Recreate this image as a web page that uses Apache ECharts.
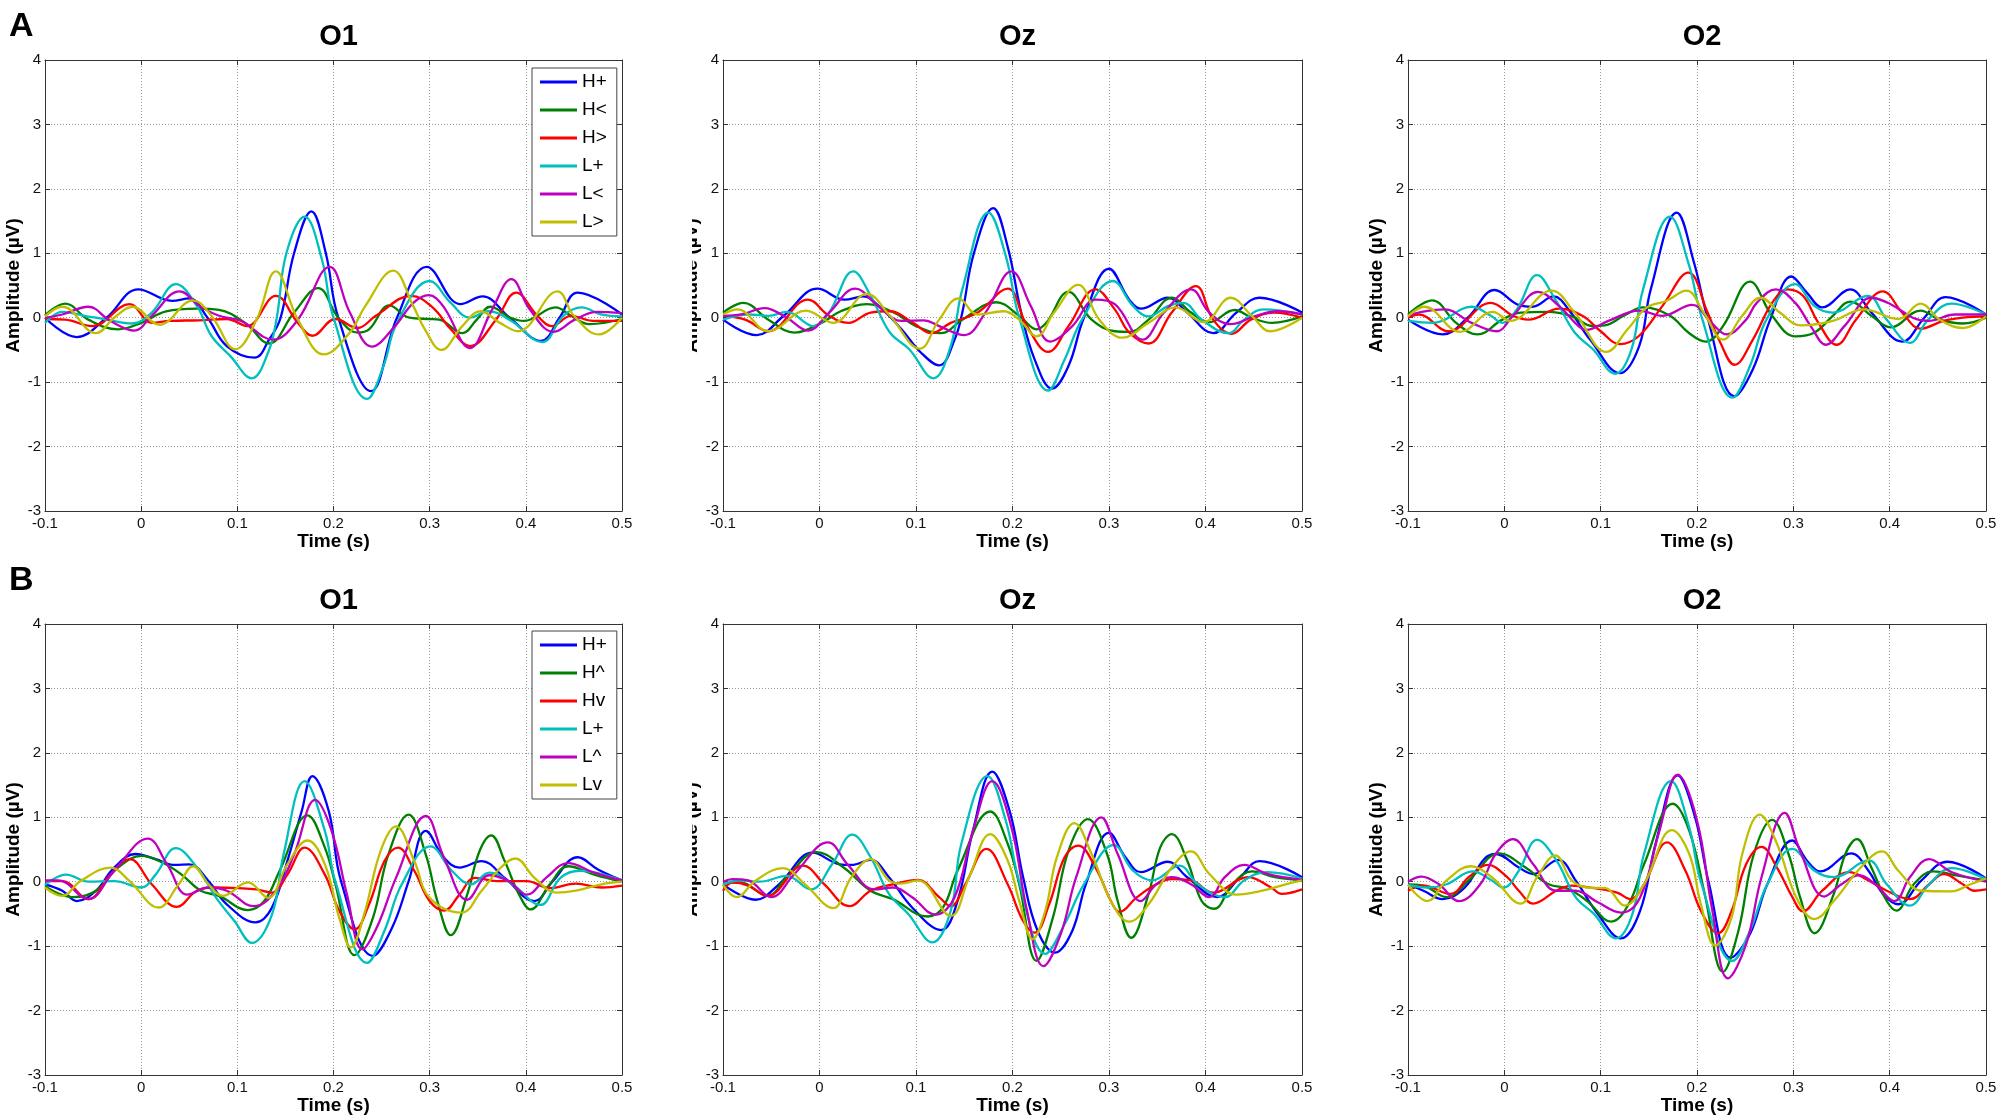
<!DOCTYPE html>
<html>
<head>
    <meta charset="utf-8">
    <title>ERP O1 Oz O2</title>
    <script src="https://cdn.jsdelivr.net/npm/echarts@6/dist/echarts.min.js"></script>
    <style>
        body { margin: 0; background: #fff; }
    </style>
</head>
<body>
    <div id="main" style="width: 2000px;height:1120px;"></div>
    <script type="text/javascript">
        // channel titles and legend names
        const channels = ['O1', 'Oz', 'O2'];
        const namesA = ['H+', 'H<', 'H>', 'L+', 'L<', 'L>'];
        const namesB = ['H+', 'H^', 'Hv', 'L+', 'L^', 'Lv'];
        const colors = ['#0000ff', '#008000', '#ff0000', '#00bfbf', '#bf00bf', '#bfbf00'];

        // [time (s), amplitude (uV)]
        // ---- A / O1
        const aO1_Hp = [[-0.1,0],[-0.067,-0.3],[-0.036,0],[-0.003,0.44],[0.032,0.26],[0.05,0.3],[0.069,0],[0.089,-0.44],[0.118,-0.62],[0.133,-0.34],[0.145,0],[0.159,1.0],[0.177,1.65],[0.192,1.0],[0.205,0],[0.239,-1.14],[0.266,0],[0.297,0.79],[0.332,0.21],[0.355,0.33],[0.383,0],[0.416,-0.36],[0.435,0],[0.454,0.39],[0.5,0.05]];
        const aO1_Hlt = [[-0.1,0.04],[-0.079,0.22],[-0.055,-0.03],[-0.024,-0.18],[0,-0.08],[0.026,0.1],[0.058,0.14],[0.081,0.12],[0.108,-0.08],[0.133,-0.4],[0.159,0.08],[0.184,0.46],[0.205,0],[0.225,-0.23],[0.237,-0.18],[0.258,0.19],[0.279,0],[0.299,-0.02],[0.31,-0.03],[0.334,-0.24],[0.349,-0.03],[0.363,0.17],[0.384,0],[0.398,-0.05],[0.431,0.16],[0.447,0.03],[0.466,-0.1],[0.5,-0.02]];
        const aO1_Hgt = [[-0.1,-0.02],[-0.079,-0.03],[-0.051,-0.13],[-0.012,0.21],[0.011,-0.08],[0.03,-0.05],[0.06,-0.04],[0.089,-0.02],[0.11,-0.13],[0.14,0.34],[0.163,-0.08],[0.178,-0.28],[0.202,-0.02],[0.225,-0.16],[0.244,0.03],[0.281,0.34],[0.303,0.16],[0.322,-0.18],[0.342,-0.44],[0.369,-0.03],[0.39,0.39],[0.412,0.03],[0.427,-0.13],[0.447,0.03],[0.47,-0.05],[0.5,-0.05]];
        const aO1_Lp = [[-0.1,-0.08],[-0.082,0.09],[-0.059,0.03],[-0.036,-0.03],[-0.009,-0.09],[0.011,0.08],[0.036,0.52],[0.058,0.18],[0.073,-0.28],[0.093,-0.6],[0.115,-0.94],[0.132,-0.54],[0.141,0],[0.151,1.0],[0.17,1.57],[0.188,0.9],[0.2,0],[0.235,-1.26],[0.252,-0.75],[0.266,-0.08],[0.3,0.57],[0.322,0.23],[0.342,0],[0.361,0.1],[0.385,-0.05],[0.417,-0.38],[0.439,0.03],[0.458,0.16],[0.478,0.05],[0.5,0.02]];
        const aO1_Llt = [[-0.1,0],[-0.082,0.05],[-0.055,0.17],[-0.032,-0.05],[-0.007,-0.2],[0.011,0.03],[0.04,0.41],[0.061,0.18],[0.081,0.03],[0.104,-0.05],[0.137,-0.34],[0.163,-0.03],[0.196,0.79],[0.217,0.08],[0.24,-0.45],[0.264,-0.13],[0.283,0.23],[0.299,0.35],[0.314,0.18],[0.342,-0.47],[0.365,0.13],[0.385,0.6],[0.404,0.13],[0.429,-0.22],[0.451,-0.03],[0.474,0.09],[0.5,0.07]];
        const aO1_Lgt = [[-0.1,0.02],[-0.082,0.17],[-0.047,-0.24],[-0.028,0],[-0.009,0.17],[0.019,-0.11],[0.054,0.27],[0.073,0.03],[0.098,-0.49],[0.12,-0.03],[0.14,0.72],[0.163,-0.03],[0.19,-0.57],[0.217,-0.23],[0.233,0.18],[0.262,0.73],[0.283,0.18],[0.295,-0.18],[0.312,-0.5],[0.334,-0.13],[0.353,0.1],[0.373,-0.08],[0.392,-0.21],[0.433,0.41],[0.45,0.03],[0.476,-0.26],[0.5,0]];
        // ---- A / Oz
        const aOz_Hp = [[-0.1,-0.03],[-0.065,-0.27],[-0.037,0.03],[-0.002,0.45],[0.026,0.28],[0.045,0.33],[0.065,0.13],[0.085,-0.18],[0.105,-0.54],[0.124,-0.74],[0.14,-0.34],[0.148,0.08],[0.16,1.0],[0.18,1.7],[0.195,1.1],[0.209,0.08],[0.223,-0.65],[0.241,-1.1],[0.258,-0.75],[0.274,0],[0.3,0.76],[0.321,0.28],[0.333,0.14],[0.361,0.31],[0.381,0.08],[0.408,-0.24],[0.432,0.08],[0.456,0.31],[0.5,0.08]];
        const aOz_Hlt = [[-0.1,0.08],[-0.079,0.23],[-0.053,-0.03],[-0.026,-0.23],[0.002,-0.08],[0.022,0.1],[0.049,0.21],[0.077,0.08],[0.1,-0.13],[0.126,-0.24],[0.148,-0.03],[0.183,0.24],[0.207,0.03],[0.225,-0.18],[0.235,-0.08],[0.258,0.4],[0.282,-0.03],[0.306,-0.21],[0.321,-0.22],[0.341,-0.03],[0.365,0.31],[0.385,0.08],[0.404,-0.07],[0.43,0.12],[0.448,0],[0.469,-0.08],[0.5,0.02]];
        const aOz_Hgt = [[-0.1,0.03],[-0.077,-0.03],[-0.053,-0.21],[-0.012,0.28],[0.01,0.03],[0.03,-0.08],[0.053,0.08],[0.073,0.1],[0.097,-0.08],[0.116,-0.24],[0.136,-0.08],[0.164,0.08],[0.195,0.45],[0.215,-0.13],[0.237,-0.53],[0.258,-0.13],[0.286,0.44],[0.306,0.13],[0.321,-0.23],[0.341,-0.4],[0.365,0.08],[0.39,0.49],[0.408,-0.03],[0.427,-0.25],[0.447,-0.03],[0.471,0.08],[0.5,0]];
        const aOz_Lp = [[-0.1,-0.03],[-0.073,0.05],[-0.053,0.03],[-0.034,0.09],[-0.006,-0.13],[0.01,0.08],[0.035,0.72],[0.053,0.34],[0.073,-0.23],[0.093,-0.49],[0.118,-0.94],[0.136,-0.44],[0.148,0.44],[0.175,1.63],[0.193,0.96],[0.207,0],[0.237,-1.13],[0.254,-0.65],[0.272,-0.03],[0.304,0.57],[0.325,0.18],[0.341,0.02],[0.361,0.18],[0.377,0.23],[0.396,-0.03],[0.424,-0.24],[0.44,-0.03],[0.46,0.13],[0.5,0.05]];
        const aOz_Llt = [[-0.1,0.03],[-0.081,0.05],[-0.057,0.15],[-0.034,0],[-0.012,-0.2],[0.01,0.08],[0.037,0.45],[0.061,0.18],[0.085,-0.05],[0.108,-0.04],[0.124,-0.13],[0.15,-0.27],[0.172,0.08],[0.199,0.72],[0.219,0.18],[0.239,-0.37],[0.262,-0.13],[0.286,0.28],[0.306,0.21],[0.335,-0.34],[0.357,0.08],[0.385,0.44],[0.404,0.08],[0.426,-0.1],[0.452,0.03],[0.475,0.1],[0.5,0.05]];
        const aOz_Lgt = [[-0.1,0.05],[-0.085,0.13],[-0.053,-0.21],[-0.014,0.11],[0.014,-0.08],[0.049,0.37],[0.073,0.03],[0.104,-0.48],[0.124,-0.03],[0.144,0.3],[0.164,0.05],[0.191,0.1],[0.207,-0.03],[0.225,-0.29],[0.243,0.08],[0.268,0.51],[0.29,-0.03],[0.314,-0.31],[0.341,-0.08],[0.369,0.16],[0.398,-0.07],[0.426,0.31],[0.448,0.03],[0.467,-0.21],[0.5,0]];
        // ---- A / O2
        const aO2_Hp = [[-0.1,-0.03],[-0.064,-0.26],[-0.038,0],[-0.01,0.43],[0.013,0.21],[0.029,0.17],[0.051,0.33],[0.069,0.08],[0.089,-0.34],[0.12,-0.86],[0.14,-0.44],[0.152,0.44],[0.179,1.63],[0.197,0.85],[0.211,0],[0.239,-1.22],[0.258,-0.8],[0.276,-0.03],[0.298,0.64],[0.314,0.39],[0.33,0.16],[0.359,0.44],[0.381,0.08],[0.413,-0.37],[0.436,0],[0.458,0.32],[0.5,0.05]];
        const aO2_Hlt = [[-0.1,0.05],[-0.075,0.27],[-0.05,-0.08],[-0.028,-0.26],[-0.002,-0.03],[0.017,0.08],[0.045,0.09],[0.069,0.03],[0.092,-0.13],[0.104,-0.12],[0.124,0.03],[0.144,0.16],[0.172,0.03],[0.191,-0.23],[0.209,-0.37],[0.227,-0.13],[0.255,0.56],[0.278,0.03],[0.302,-0.29],[0.322,-0.23],[0.341,0.03],[0.359,0.25],[0.381,0.03],[0.401,-0.15],[0.432,0.11],[0.452,-0.03],[0.476,-0.09],[0.5,0]];
        const aO2_Hgt = [[-0.1,0],[-0.089,0.05],[-0.058,-0.21],[-0.014,0.23],[0.009,0.03],[0.025,-0.03],[0.057,0.14],[0.081,0.03],[0.1,-0.21],[0.12,-0.41],[0.14,-0.28],[0.164,0.18],[0.191,0.7],[0.211,0.08],[0.224,-0.38],[0.239,-0.73],[0.258,-0.34],[0.278,0.23],[0.294,0.44],[0.31,0.34],[0.326,-0.08],[0.345,-0.42],[0.365,-0.03],[0.393,0.41],[0.413,0.08],[0.432,-0.17],[0.456,-0.05],[0.476,0],[0.5,0.02]];
        const aO2_Lp = [[-0.1,-0.05],[-0.074,-0.08],[-0.034,0.17],[-0.014,0.03],[-0.002,-0.08],[0.013,0.13],[0.034,0.66],[0.053,0.28],[0.073,-0.23],[0.092,-0.49],[0.115,-0.87],[0.132,-0.49],[0.144,0.44],[0.172,1.57],[0.191,0.85],[0.205,0],[0.237,-1.24],[0.255,-0.75],[0.272,-0.03],[0.302,0.52],[0.322,0.18],[0.341,0.08],[0.377,0.34],[0.397,-0.03],[0.421,-0.39],[0.44,-0.03],[0.464,0.22],[0.5,0.05]];
        const aO2_Llt = [[-0.1,0.03],[-0.089,0.08],[-0.062,0.13],[-0.034,-0.08],[-0.008,-0.21],[0.009,0.03],[0.035,0.4],[0.057,0.18],[0.077,-0.13],[0.085,-0.19],[0.108,-0.05],[0.14,0.11],[0.164,0.03],[0.195,0.2],[0.215,-0.08],[0.231,-0.26],[0.251,-0.03],[0.262,0.23],[0.282,0.44],[0.302,0.23],[0.318,-0.13],[0.334,-0.42],[0.353,-0.13],[0.381,0.31],[0.401,0.21],[0.424,0],[0.44,-0.05],[0.468,0.05],[0.5,0.05]];
        const aO2_Lgt = [[-0.1,0.02],[-0.083,0.17],[-0.046,-0.22],[-0.012,0.09],[0.006,-0.05],[0.049,0.42],[0.073,0.08],[0.106,-0.53],[0.128,-0.18],[0.148,0.16],[0.168,0.26],[0.189,0.42],[0.207,0.08],[0.227,-0.34],[0.247,0.03],[0.266,0.31],[0.286,0.08],[0.308,-0.12],[0.341,-0.05],[0.373,0.13],[0.409,-0.02],[0.432,0.22],[0.452,-0.03],[0.476,-0.16],[0.5,0.02]];
        // ---- B / O1
        const bO1_Hp = [[-0.1,-0.04],[-0.082,-0.14],[-0.067,-0.3],[-0.047,-0.14],[-0.028,0.22],[-0.006,0.43],[0.015,0.35],[0.035,0.26],[0.05,0.27],[0.07,0.01],[0.089,-0.35],[0.119,-0.63],[0.136,-0.4],[0.152,0.32],[0.167,1.1],[0.178,1.64],[0.195,1.1],[0.208,0],[0.241,-1.15],[0.261,-0.71],[0.278,0],[0.296,0.79],[0.315,0.37],[0.331,0.22],[0.354,0.32],[0.378,0.06],[0.409,-0.3],[0.428,0.01],[0.454,0.38],[0.475,0.19],[0.5,0.02]];
        const bO1_Hup = [[-0.1,-0.07],[-0.071,-0.24],[-0.047,-0.14],[-0.024,0.22],[0,0.4],[0.023,0.29],[0.042,0.11],[0.062,-0.14],[0.081,-0.22],[0.111,-0.44],[0.128,-0.3],[0.144,0.17],[0.173,1.03],[0.191,0.53],[0.202,-0.04],[0.222,-1.14],[0.241,-0.56],[0.257,0.42],[0.278,1.04],[0.296,0.42],[0.308,-0.3],[0.322,-0.83],[0.339,-0.2],[0.352,0.48],[0.364,0.72],[0.378,0.32],[0.393,-0.2],[0.405,-0.43],[0.425,-0.04],[0.444,0.24],[0.471,0.11],[0.5,0]];
        const bO1_Hdn = [[-0.1,0.01],[-0.082,0.01],[-0.055,-0.27],[-0.032,0.11],[-0.012,0.35],[0.011,-0.04],[0.037,-0.39],[0.058,-0.14],[0.078,-0.09],[0.101,-0.1],[0.12,-0.12],[0.136,-0.17],[0.152,0.11],[0.17,0.53],[0.191,0.11],[0.206,-0.45],[0.222,-0.74],[0.237,-0.35],[0.253,0.32],[0.267,0.53],[0.284,0.17],[0.3,-0.3],[0.315,-0.45],[0.331,-0.2],[0.347,0.06],[0.37,0.01],[0.401,0.01],[0.425,-0.1],[0.452,-0.03],[0.479,-0.09],[0.5,-0.06]];
        const bO1_Lp = [[-0.1,-0.05],[-0.078,0.11],[-0.055,0],[-0.028,0.01],[0,-0.09],[0.015,0.11],[0.036,0.52],[0.058,0.22],[0.078,-0.25],[0.097,-0.61],[0.115,-0.95],[0.136,-0.51],[0.148,0.42],[0.17,1.56],[0.191,0.79],[0.202,0],[0.235,-1.26],[0.253,-0.76],[0.271,-0.04],[0.301,0.55],[0.323,0.17],[0.343,-0.04],[0.362,0.14],[0.386,-0.04],[0.415,-0.36],[0.436,0.06],[0.456,0.17],[0.5,0.02]];
        const bO1_Lup = [[-0.1,0.02],[-0.086,0.02],[-0.055,-0.27],[-0.028,0.17],[0.007,0.67],[0.027,0.27],[0.048,-0.2],[0.07,-0.09],[0.089,-0.14],[0.117,-0.38],[0.14,-0.14],[0.159,0.42],[0.181,1.27],[0.198,0.79],[0.214,-0.2],[0.23,-1.05],[0.245,-0.71],[0.265,0.06],[0.296,1.02],[0.315,0.37],[0.339,-0.28],[0.362,0.1],[0.382,0.01],[0.401,-0.2],[0.421,0.06],[0.444,0.29],[0.471,0.14],[0.5,0.02]];
        const bO1_Ldn = [[-0.1,-0.09],[-0.082,-0.22],[-0.063,0.01],[-0.032,0.22],[-0.012,0.01],[0.018,-0.4],[0.039,-0.04],[0.054,0.24],[0.07,-0.04],[0.085,-0.22],[0.111,-0.01],[0.132,-0.25],[0.152,0.27],[0.173,0.64],[0.191,0.27],[0.206,-0.56],[0.218,-1.02],[0.232,-0.5],[0.249,0.48],[0.265,0.86],[0.284,0.32],[0.3,-0.25],[0.333,-0.48],[0.354,-0.14],[0.374,0.22],[0.389,0.36],[0.409,0.06],[0.432,-0.17],[0.452,-0.14],[0.479,-0.04],[0.5,0]];
        // ---- B / Oz
        const bOz_Hp = [[-0.1,-0.04],[-0.066,-0.28],[-0.042,-0.04],[-0.007,0.45],[0.021,0.27],[0.033,0.26],[0.053,0.34],[0.072,0.07],[0.096,-0.4],[0.126,-0.75],[0.143,-0.3],[0.159,0.79],[0.179,1.71],[0.197,1.1],[0.211,0.07],[0.226,-0.76],[0.244,-1.1],[0.262,-0.76],[0.276,-0.04],[0.3,0.76],[0.317,0.38],[0.333,0.15],[0.361,0.31],[0.381,0.07],[0.412,-0.24],[0.436,0.07],[0.456,0.32],[0.5,0.07]];
        const bOz_Hup = [[-0.1,-0.03],[-0.082,-0.01],[-0.054,-0.22],[-0.034,0.07],[-0.003,0.46],[0.025,0.22],[0.053,-0.14],[0.076,-0.27],[0.112,-0.54],[0.128,-0.4],[0.143,0.17],[0.177,1.09],[0.195,0.59],[0.207,-0.04],[0.225,-1.23],[0.242,-0.55],[0.258,0.48],[0.278,0.97],[0.298,0.43],[0.309,-0.3],[0.323,-0.87],[0.341,-0.19],[0.353,0.53],[0.365,0.74],[0.381,0.33],[0.396,-0.3],[0.409,-0.42],[0.428,-0.04],[0.448,0.16],[0.472,0.07],[0.5,0.02]];
        const bOz_Hdn = [[-0.1,-0.14],[-0.09,-0.01],[-0.074,-0.06],[-0.054,-0.22],[-0.017,0.25],[0.005,-0.04],[0.031,-0.38],[0.053,-0.14],[0.076,-0.04],[0.102,0.03],[0.124,-0.24],[0.136,-0.38],[0.151,-0.04],[0.173,0.51],[0.195,-0.04],[0.211,-0.61],[0.223,-0.79],[0.238,-0.35],[0.254,0.38],[0.268,0.56],[0.286,0.22],[0.302,-0.3],[0.311,-0.47],[0.329,-0.24],[0.349,-0.04],[0.365,0.04],[0.385,0.02],[0.408,-0.17],[0.444,0.07],[0.468,-0.09],[0.479,-0.19],[0.5,-0.12]];
        const bOz_Lp = [[-0.1,-0.04],[-0.082,0.02],[-0.062,0],[-0.034,0.09],[-0.009,-0.12],[0.013,0.27],[0.034,0.73],[0.053,0.38],[0.072,-0.19],[0.092,-0.5],[0.117,-0.94],[0.136,-0.45],[0.147,0.59],[0.174,1.64],[0.193,0.95],[0.207,0],[0.234,-1.12],[0.254,-0.66],[0.274,-0.04],[0.305,0.57],[0.325,0.17],[0.345,0.02],[0.373,0.25],[0.392,-0.04],[0.42,-0.24],[0.44,0.02],[0.464,0.15],[0.5,0.05]];
        const bOz_Lup = [[-0.1,0],[-0.09,0.04],[-0.074,0.02],[-0.05,-0.24],[-0.026,0.12],[0.009,0.61],[0.029,0.27],[0.057,-0.12],[0.076,-0.09],[0.096,-0.24],[0.12,-0.51],[0.14,-0.24],[0.159,0.79],[0.179,1.56],[0.199,0.84],[0.215,-0.45],[0.232,-1.31],[0.25,-0.81],[0.266,0.07],[0.292,1.0],[0.309,0.43],[0.333,-0.3],[0.349,-0.04],[0.365,0.07],[0.385,-0.04],[0.404,-0.24],[0.42,0.07],[0.44,0.26],[0.464,0.12],[0.5,0.03]];
        const bOz_Ldn = [[-0.1,-0.05],[-0.086,-0.24],[-0.066,0.02],[-0.038,0.21],[-0.015,-0.04],[0.014,-0.41],[0.033,0.07],[0.053,0.35],[0.072,0.02],[0.084,-0.03],[0.102,0.02],[0.136,-0.53],[0.155,0.07],[0.177,0.74],[0.195,0.33],[0.207,-0.3],[0.221,-0.89],[0.234,-0.45],[0.246,0.38],[0.264,0.91],[0.282,0.43],[0.302,-0.3],[0.321,-0.62],[0.341,-0.35],[0.365,0.22],[0.385,0.47],[0.404,0.12],[0.432,-0.2],[0.459,-0.14],[0.483,-0.04],[0.5,0.02]];
        // ---- B / O2
        const bO2_Hp = [[-0.1,-0.04],[-0.084,-0.14],[-0.064,-0.27],[-0.041,-0.09],[-0.021,0.35],[-0.009,0.43],[0.015,0.22],[0.03,0.12],[0.056,0.34],[0.074,0.02],[0.097,-0.5],[0.121,-0.88],[0.141,-0.45],[0.157,0.59],[0.18,1.65],[0.198,1.0],[0.212,0],[0.235,-1.18],[0.255,-0.81],[0.273,-0.04],[0.299,0.64],[0.314,0.33],[0.328,0.16],[0.36,0.44],[0.378,0.17],[0.393,-0.19],[0.409,-0.35],[0.433,0.02],[0.46,0.31],[0.5,0.05]];
        const bO2_Hup = [[-0.1,-0.04],[-0.084,-0.06],[-0.06,-0.24],[-0.037,0.02],[-0.005,0.44],[0.022,0.22],[0.046,-0.04],[0.066,-0.11],[0.086,-0.3],[0.111,-0.62],[0.129,-0.35],[0.145,0.27],[0.175,1.21],[0.192,0.79],[0.208,-0.19],[0.227,-1.4],[0.243,-0.76],[0.259,0.43],[0.278,0.96],[0.295,0.43],[0.307,-0.24],[0.322,-0.8],[0.342,-0.19],[0.354,0.43],[0.366,0.66],[0.381,0.22],[0.397,-0.3],[0.407,-0.45],[0.425,-0.04],[0.445,0.16],[0.472,0.09],[0.5,0.02]];
        const bO2_Hdn = [[-0.1,-0.14],[-0.084,-0.06],[-0.056,-0.19],[-0.037,0.07],[-0.017,0.26],[0.003,0.07],[0.015,-0.14],[0.03,-0.34],[0.054,-0.14],[0.07,-0.06],[0.093,-0.1],[0.117,-0.17],[0.131,-0.27],[0.145,-0.04],[0.169,0.61],[0.188,0.17],[0.204,-0.45],[0.222,-0.8],[0.236,-0.45],[0.251,0.27],[0.267,0.54],[0.283,0.22],[0.299,-0.24],[0.31,-0.46],[0.33,-0.14],[0.358,0.15],[0.378,0.02],[0.397,-0.14],[0.421,-0.27],[0.441,-0.04],[0.456,0.12],[0.476,-0.04],[0.488,-0.14],[0.5,-0.12]];
        const bO2_Lp = [[-0.1,-0.05],[-0.08,-0.09],[-0.06,-0.04],[-0.033,0.16],[-0.013,0.02],[-0.001,-0.09],[0.015,0.17],[0.034,0.65],[0.054,0.33],[0.074,-0.24],[0.093,-0.5],[0.116,-0.88],[0.133,-0.5],[0.145,0.43],[0.173,1.56],[0.192,0.84],[0.204,0],[0.237,-1.23],[0.255,-0.76],[0.273,-0.04],[0.299,0.51],[0.322,0.17],[0.342,0.07],[0.378,0.33],[0.397,-0.04],[0.421,-0.37],[0.441,-0.04],[0.464,0.21],[0.5,0.04]];
        const bO2_Lup = [[-0.1,0],[-0.086,0.08],[-0.068,-0.04],[-0.047,-0.3],[-0.025,-0.04],[-0.009,0.43],[0.009,0.66],[0.03,0.27],[0.054,-0.14],[0.074,-0.14],[0.097,-0.32],[0.121,-0.48],[0.141,-0.24],[0.161,0.79],[0.18,1.66],[0.2,0.95],[0.216,-0.45],[0.232,-1.5],[0.251,-0.97],[0.267,0.07],[0.291,1.07],[0.307,0.48],[0.332,-0.23],[0.35,-0.04],[0.368,0.1],[0.385,-0.04],[0.405,-0.3],[0.421,0.07],[0.441,0.35],[0.464,0.15],[0.5,0]];
        const bO2_Ldn = [[-0.1,-0.05],[-0.08,-0.3],[-0.06,0.02],[-0.035,0.24],[-0.013,0.07],[0.017,-0.34],[0.034,0.07],[0.053,0.41],[0.07,0.02],[0.086,-0.09],[0.105,-0.1],[0.125,-0.37],[0.145,-0.04],[0.174,0.8],[0.192,0.43],[0.204,-0.35],[0.219,-0.99],[0.236,-0.55],[0.247,0.43],[0.265,1.04],[0.283,0.59],[0.303,-0.24],[0.322,-0.58],[0.342,-0.3],[0.37,0.22],[0.392,0.47],[0.409,0.17],[0.433,-0.14],[0.464,-0.15],[0.484,-0.04],[0.5,0.05]];

        // panels in reading order: A-O1, A-Oz, A-O2, B-O1, B-Oz, B-O2
        const panelData = [
            [aO1_Hp, aO1_Hlt, aO1_Hgt, aO1_Lp, aO1_Llt, aO1_Lgt],
            [aOz_Hp, aOz_Hlt, aOz_Hgt, aOz_Lp, aOz_Llt, aOz_Lgt],
            [aO2_Hp, aO2_Hlt, aO2_Hgt, aO2_Lp, aO2_Llt, aO2_Lgt],
            [bO1_Hp, bO1_Hup, bO1_Hdn, bO1_Lp, bO1_Lup, bO1_Ldn],
            [bOz_Hp, bOz_Hup, bOz_Hdn, bOz_Lp, bOz_Lup, bOz_Ldn],
            [bO2_Hp, bO2_Hup, bO2_Hdn, bO2_Lp, bO2_Lup, bO2_Ldn]
        ];

        const font = 'Liberation Sans, Arial, Helvetica, sans-serif';
        const axisColor = '#333';
        const cols = [{ left: 45, width: 577 }, { left: 723, width: 579 }, { left: 1408, width: 578 }];
        const rows = [{ top: 60, height: 451 }, { top: 624, height: 451 }];

        const grids = [], xAxes = [], yAxes = [], titles = [], series = [];
        for (let p = 0; p < 6; p++) {
            const r = rows[Math.floor(p / 3)];
            const c = cols[p % 3];
            grids.push({
                left: c.left, top: r.top, width: c.width, height: r.height,
                containLabel: false, outerBoundsMode: 'none'
            });
            titles.push({
                text: channels[p % 3],
                left: c.left + c.width / 2, top: r.top - 43, textAlign: 'center',
                textStyle: { fontFamily: font, fontSize: 29, fontWeight: 'bold', color: '#000' }
            });
            // bottom and top x axes
            xAxes.push({
                type: 'value', gridIndex: p, min: -0.1, max: 0.5, interval: 0.1,
                name: 'Time (s)', nameLocation: 'middle', nameGap: 21,
                nameTextStyle: { fontFamily: font, fontSize: 19, fontWeight: 'bold', color: '#000' },
                axisLine: { onZero: false, lineStyle: { color: axisColor, width: 1 } },
                axisTick: { inside: true, length: 5, lineStyle: { color: axisColor } },
                axisLabel: {
                    margin: 5, fontFamily: font, fontSize: 15, color: '#111',
                    formatter: v => String(Math.round(v * 10) / 10)
                },
                splitLine: { show: true, lineStyle: { type: [1, 2], color: '#999', width: 1 } }
            });
            xAxes.push({
                type: 'value', gridIndex: p, position: 'top', min: -0.1, max: 0.5, interval: 0.1,
                axisLine: { onZero: false, lineStyle: { color: axisColor, width: 1 } },
                axisTick: { inside: true, length: 5, lineStyle: { color: axisColor } },
                axisLabel: { show: false }, splitLine: { show: false }
            });
            // left and right y axes
            yAxes.push({
                type: 'value', gridIndex: p, min: -3, max: 4, interval: 1,
                name: 'Amplitude (\u00b5V)', nameLocation: 'middle', nameGap: 22, nameRotate: 90,
                nameMoveOverlap: false,
                nameTextStyle: { fontFamily: font, fontSize: 19, fontWeight: 'bold', color: '#000' },
                axisLine: { show: true, onZero: false, lineStyle: { color: axisColor, width: 1 } },
                axisTick: { show: true, inside: true, length: 5, lineStyle: { color: axisColor } },
                axisLabel: { margin: 4, fontFamily: font, fontSize: 15, color: '#111' },
                splitLine: { show: true, lineStyle: { type: [1, 2], color: '#999', width: 1 } }
            });
            yAxes.push({
                type: 'value', gridIndex: p, position: 'right', min: -3, max: 4, interval: 1,
                axisLine: { show: true, onZero: false, lineStyle: { color: axisColor, width: 1 } },
                axisTick: { show: true, inside: true, length: 5, lineStyle: { color: axisColor } },
                axisLabel: { show: false }, splitLine: { show: false }
            });
            const names = p < 3 ? namesA : namesB;
            for (let k = 0; k < 6; k++) {
                series.push({
                    type: 'line', name: names[k],
                    xAxisIndex: p * 2, yAxisIndex: p * 2,
                    data: panelData[p][k],
                    smooth: 0.4, showSymbol: false, symbol: 'none',
                    lineStyle: { color: colors[k], width: 2.3 },
                    itemStyle: { color: colors[k] },
                    emphasis: { disabled: true },
                    z: 2 + k
                });
            }
        }

        const legendBase = {
            orient: 'vertical', left: 532,
            icon: 'rect', itemWidth: 37, itemHeight: 3, itemGap: 8,
            padding: [4, 10, 4, 8],
            backgroundColor: '#fff', borderColor: '#444', borderWidth: 1,
            textStyle: { fontFamily: font, fontSize: 19, color: '#000', lineHeight: 20 },
            selectedMode: false, z: 10
        };

        var myChart = echarts.init(document.getElementById('main'), null, { renderer: 'canvas' });
        var option = {
            backgroundColor: '#fff',
            animation: false,
            textStyle: { fontFamily: font },
            title: titles,
            grid: grids,
            xAxis: xAxes,
            yAxis: yAxes,
            legend: [
                Object.assign({}, legendBase, { top: 68, data: namesA }),
                Object.assign({}, legendBase, { top: 631, data: namesB })
            ],
            graphic: [
                { type: 'text', left: 9, top: 10, z: 100,
                  style: { text: 'A', fontFamily: font, fontSize: 34, fontWeight: 'bold', fill: '#000' } },
                { type: 'text', left: 9, top: 564, z: 100,
                  style: { text: 'B', fontFamily: font, fontSize: 34, fontWeight: 'bold', fill: '#000' } },
                // the Oz axis labels are clipped by the neighbouring panel in the figure
                { type: 'rect', shape: { x: 627, y: 180, width: 65, height: 220 }, style: { fill: '#fff' }, z: 100 },
                { type: 'rect', shape: { x: 627, y: 744, width: 65, height: 220 }, style: { fill: '#fff' }, z: 100 }
            ],
            series: series
        };

        myChart.setOption(option);
    </script>
</body>
</html>
